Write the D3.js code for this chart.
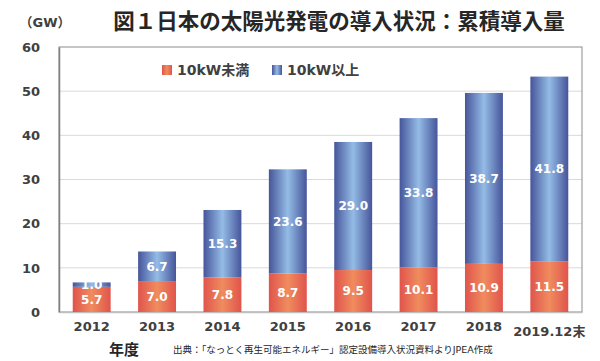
<!DOCTYPE html>
<html>
<head>
<meta charset="utf-8">
<script src="https://cdn.jsdelivr.net/npm/d3@7"></script>
<style>
  body { margin: 0; background: #fff; }
  text { font-family: "DejaVu Sans", "Noto Sans CJK JP", sans-serif; }
</style>
</head>
<body>
<script>
// data
const years = ["2012", "2013", "2014", "2015", "2016", "2017", "2018", "2019.12末"];
const under10 = [5.7, 7.0, 7.8, 8.7, 9.5, 10.1, 10.9, 11.5];
const over10 = [1.0, 6.7, 15.3, 23.6, 29.0, 33.8, 38.7, 41.8];
const yTicks = [0, 10, 20, 30, 40, 50, 60];

const W = 600, H = 361;
const margin = { left: 59, right: 18, top: 47, bottom: 49 };

const svg = d3.select("body").append("svg")
  .attr("width", W).attr("height", H);

const defs = svg.append("defs");
function hGrad(id, edge, mid) {
  const g = defs.append("linearGradient").attr("id", id)
    .attr("x1", "0%").attr("x2", "100%").attr("y1", "0%").attr("y2", "0%");
  g.append("stop").attr("offset", "0%").attr("stop-color", edge);
  g.append("stop").attr("offset", "50%").attr("stop-color", mid);
  g.append("stop").attr("offset", "100%").attr("stop-color", edge);
}
hGrad("gRed", "#e0544c", "#f08c5e");
hGrad("gBlue", "#46559a", "#94bce6");

const x = d3.scaleBand().domain(years)
  .range([margin.left, W - margin.right]).paddingInner(0.42).paddingOuter(0.21);
const y = d3.scaleLinear().domain([0, 60]).range([H - margin.bottom, margin.top]);

// grid
svg.append("g").selectAll("line").data(yTicks.slice(1, -1)).enter().append("line")
  .attr("x1", margin.left).attr("x2", W - margin.right)
  .attr("y1", d => y(d)).attr("y2", d => y(d))
  .attr("stroke", "#d9d9d9").attr("stroke-width", 1);

// plot frame
svg.append("rect")
  .attr("x", margin.left).attr("y", margin.top)
  .attr("width", W - margin.right - margin.left)
  .attr("height", y(0) - margin.top)
  .attr("fill", "none").attr("stroke", "#8c8c8c").attr("stroke-width", 1);

// y axis
const yAxis = svg.append("g")
  .attr("transform", `translate(${margin.left},0)`)
  .call(d3.axisLeft(y).tickValues(yTicks).tickSize(0).tickPadding(19));
yAxis.select(".domain").attr("stroke", "#7f7f7f").attr("stroke-width", 1.5);
yAxis.selectAll("text").attr("font-size", 13).attr("font-weight", "bold").attr("fill", "#404040");

// x axis
const xAxis = svg.append("g")
  .attr("transform", `translate(0,${y(0)})`)
  .call(d3.axisBottom(x).tickSize(0).tickPadding(10));
xAxis.select(".domain").attr("stroke", "#bfbfbf").attr("stroke-width", 1.5);
xAxis.selectAll("text").attr("font-size", 13).attr("font-weight", "bold").attr("fill", "#404040")
  .attr("dy", (d, i) => i === years.length - 1 ? "1.05em" : "0.71em");

// bars
const bars = svg.append("g");
bars.selectAll(".red").data(years).enter().append("rect")
  .attr("x", d => x(d)).attr("width", x.bandwidth())
  .attr("y", (d, i) => y(under10[i]))
  .attr("height", (d, i) => y(0) - y(under10[i]))
  .attr("fill", "url(#gRed)");
bars.selectAll(".blue").data(years).enter().append("rect")
  .attr("x", d => x(d)).attr("width", x.bandwidth())
  .attr("y", (d, i) => y(under10[i] + over10[i]))
  .attr("height", (d, i) => y(under10[i]) - y(under10[i] + over10[i]))
  .attr("fill", "url(#gBlue)");

// value labels
const lab = svg.append("g").attr("font-size", 12).attr("font-weight", "bold")
  .attr("fill", "#fff").attr("text-anchor", "middle");
lab.selectAll(".lr").data(years).enter().append("text")
  .attr("x", d => x(d) + x.bandwidth() / 2)
  .attr("y", (d, i) => y(under10[i] / 2)).attr("dy", "0.36em")
  .text((d, i) => under10[i].toFixed(1));
lab.selectAll(".lb").data(years).enter().append("text")
  .attr("x", d => x(d) + x.bandwidth() / 2)
  .attr("y", (d, i) => y(under10[i] + over10[i] / 2)).attr("dy", "0.36em")
  .text((d, i) => over10[i].toFixed(1));

// legend
const legend = svg.append("g");
[["10kW未満", "url(#gRed)", 162], ["10kW以上", "url(#gBlue)", 272]].forEach(([name, fill, lx]) => {
  legend.append("rect").attr("x", lx).attr("y", 65).attr("width", 10).attr("height", 10).attr("fill", fill);
  legend.append("text").attr("x", lx + 15).attr("y", 70).attr("dy", "0.36em")
    .attr("font-size", 14).attr("font-weight", "bold").attr("fill", "#404040").text(name);
});

// titles
svg.append("text").attr("x", 339).attr("y", 21).attr("dy", "0.36em")
  .attr("text-anchor", "middle").attr("font-size", 21.5).attr("font-weight", "bold")
  .attr("fill", "#262626").text("図１日本の太陽光発電の導入状況：累積導入量");
svg.append("text").attr("x", 45).attr("y", 22).attr("dy", "0.36em")
  .attr("text-anchor", "middle").attr("font-size", 13).attr("font-weight", "bold")
  .attr("fill", "#404040").text("（GW）");
svg.append("text").attr("x", 124).attr("y", 350).attr("dy", "0.36em")
  .attr("text-anchor", "middle").attr("font-size", 15).attr("font-weight", "bold")
  .attr("fill", "#262626").text("年度");
svg.append("text").attr("x", 173).attr("y", 350).attr("dy", "0.36em")
  .attr("font-size", 9.5).attr("fill", "#262626")
  .text("出典：「なっとく再生可能エネルギー」認定設備導入状況資料よりJPEA作成");
</script>
</body>
</html>
